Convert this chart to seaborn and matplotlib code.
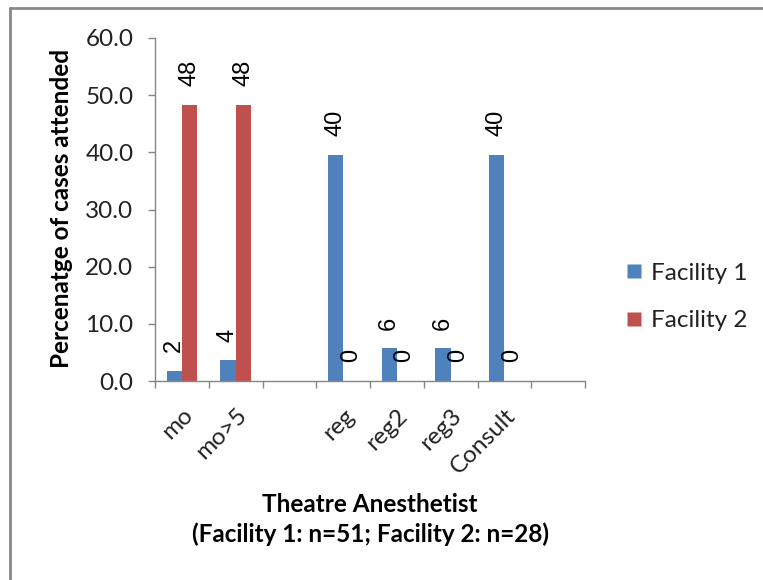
import matplotlib
matplotlib.use("Agg")
import matplotlib.pyplot as plt
from matplotlib.lines import Line2D
import seaborn as sns
import pandas as pd

# Categories (two blank slots keep the Excel-style spacing)
categories = ["mo", "mo>5", " ", "reg", "reg2", "reg3", "Consult", "  "]
staff = ["mo", "mo>5", "reg", "reg2", "reg3", "Consult"]
facility1 = [1.8, 3.6, 39.6, 5.7, 5.7, 39.6]
facility2 = [48.3, 48.3, 0.0, 0.0, 0.0, 0.0]
series = ["Facility 1", "Facility 2"]
colors = ["#4F81BD", "#C0504D"]
yticks = [0, 10, 20, 30, 40, 50, 60]

df = pd.DataFrame({
    "staff": staff * 2,
    "facility": [series[0]] * len(staff) + [series[1]] * len(staff),
    "pct": facility1 + facility2,
})

sns.set_theme(style="white")
plt.rcParams["font.family"] = ["Lato", "DejaVu Sans"]

W, H = 763, 580
fig = plt.figure(figsize=(W / 100, H / 100), dpi=100)
ax = fig.add_axes([155 / W, 1 - 381 / H, 430 / W, (381 - 38) / H])

sns.barplot(data=df, x="staff", y="pct", hue="facility", order=categories,
            hue_order=series, palette=colors, width=0.57, gap=0,
            edgecolor="none", saturation=1, ax=ax, legend=False)

# value labels above each bar
for cont, vals in zip(ax.containers, [facility1, facility2]):
    ax.bar_label(cont, labels=[f"{v:.0f}" for v in vals], rotation=90,
                 padding=13.5, fontsize=17, family="Liberation Sans",
                 color="#000000")

ax.set_ylim(0, 60)
ax.set_xlim(-0.5, len(categories) - 0.5)
ax.set_yticks(yticks)
ax.set_yticklabels([f"{v:.1f}" for v in yticks], fontsize=17.5, color="#222222")
ax.set_xticks(range(len(categories)))
ax.set_xticklabels(categories, rotation=45, ha="right", rotation_mode="anchor",
                   fontsize=17.5, color="#222222")
ax.set_xticks([i + 0.5 for i in range(-1, len(categories))], minor=True)
ax.tick_params(axis="x", which="major", length=0, pad=17)
ax.tick_params(axis="x", which="minor", length=5, width=1, color="#868686",
               direction="out", bottom=True)
ax.tick_params(axis="y", which="major", length=5, width=1, color="#868686",
               direction="out", left=True, pad=10.5)
ax.set_xlabel("")
ax.set_ylabel("")

for side in ["top", "right"]:
    ax.spines[side].set_visible(False)
for side in ["left", "bottom"]:
    ax.spines[side].set_color("#868686")
    ax.spines[side].set_linewidth(1)

fig.text(62 / W, 1 - 208 / H, "Percenatge of cases attended", rotation=90,
         ha="center", va="center", fontsize=17.5, fontweight="bold", color="#000000")
fig.text(370 / W, 1 - 504 / H, "Theatre Anesthetist", ha="center", va="center",
         fontsize=17.5, fontweight="bold", color="#000000")
fig.text(370 / W, 1 - 534 / H, "(Facility 1: n=51; Facility 2: n=28)", ha="center",
         va="center", fontsize=17.5, fontweight="bold", color="#000000")

handles = [Line2D([], [], marker="s", linestyle="none", markersize=10,
                  markerfacecolor=c, markeredgecolor="none") for c in colors]
fig.legend(handles, series, loc="center left", bbox_to_anchor=(600 / W, 1 - 297 / H),
           frameon=False, fontsize=17.5, labelspacing=1.08, handletextpad=0.2,
           handlelength=1.0, labelcolor="#222222")

# outer chart frame
fig.add_artist(Line2D([10 / W, 1], [1 - 8 / H, 1 - 8 / H], color="#888888", lw=2))
fig.add_artist(Line2D([10 / W, 10 / W], [0, 1 - 8 / H], color="#888888", lw=2))

fig.savefig("out.png", dpi=100)
